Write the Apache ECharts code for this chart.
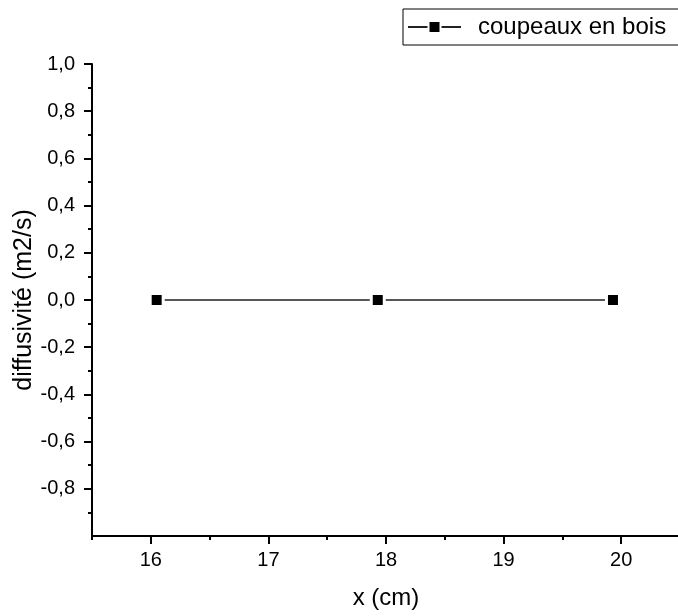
<!DOCTYPE html>
<html>
<head>
<meta charset="utf-8">
<script src="https://cdn.jsdelivr.net/npm/echarts@6/dist/echarts.min.js"></script>
<style>html,body{margin:0;padding:0;background:#fff;}#c{width:678px;height:616px;}</style>
</head>
<body>
<div id="c"></div>
<script>
const seriesName = 'coupeaux en bois';
const xValues = [16.05, 17.93, 19.93];
const yValues = [0, 0, 0];
const xMajorTicks = [16, 17, 18, 19, 20];
const xMinorTicks = [15.5, 16.5, 17.5, 18.5, 19.5];
const yMajorTicks = [-0.8, -0.6, -0.4, -0.2, 0, 0.2, 0.4, 0.6, 0.8, 1.0];
const xTitle = 'x (cm)';
const yTitle = 'diffusivité (m2/s)';

const FONT = '"Liberation Sans", Arial, sans-serif';
const chart = echarts.init(document.getElementById('c'), null, {renderer: 'canvas'});
const axisLine = {show: true, onZero: false, lineStyle: {color: '#000', width: 2}};
chart.setOption({
  animation: false,
  backgroundColor: '#fff',
  textStyle: {fontFamily: FONT, color: '#000'},
  grid: {left: 92, top: 64, right: -2, bottom: 80, containLabel: false, outerBoundsMode: 'none'},
  legend: {
    left: 403, top: 9,
    padding: [6, 30, 6, 4],
    borderColor: '#000', borderWidth: 1,
    itemWidth: 53, itemHeight: 15,
    textStyle: {fontFamily: FONT, fontSize: 24, color: '#000', padding: [0, 0, 0, 12]},
    data: [seriesName]
  },
  xAxis: [{
    type: 'value', min: 15.5, max: 20.5, position: 'bottom',
    name: xTitle, nameLocation: 'middle', nameGap: 50, nameMoveOverlap: false,
    nameTextStyle: {fontFamily: FONT, fontSize: 24, color: '#000'},
    axisLine: axisLine,
    axisTick: {show: true, inside: false, length: 8, lineStyle: {color: '#000', width: 2}, customValues: xMajorTicks},
    axisLabel: {show: true, fontFamily: FONT, fontSize: 20, color: '#000', margin: 14, customValues: xMajorTicks},
    splitLine: {show: false}
  }, {
    type: 'value', min: 15.5, max: 20.5, position: 'bottom',
    axisLine: {show: false, onZero: false},
    axisTick: {show: true, length: 4, lineStyle: {color: '#000', width: 2}, customValues: xMinorTicks},
    axisLabel: {show: false},
    splitLine: {show: false}
  }],
  yAxis: {
    type: 'value', min: -1, max: 1, interval: 0.2,
    name: yTitle, nameLocation: 'middle', nameGap: 55, nameMoveOverlap: false,
    nameTextStyle: {fontFamily: FONT, fontSize: 25, color: '#000'},
    axisLine: axisLine,
    axisTick: {show: true, length: 8, lineStyle: {color: '#000', width: 2}, customValues: yMajorTicks},
    minorTick: {show: true, splitNumber: 2, length: 4, lineStyle: {color: '#000', width: 2}},
    axisLabel: {
      fontFamily: FONT, fontSize: 20, color: '#000', margin: 17,
      customValues: yMajorTicks,
      formatter: function (v) {
        if (Math.abs(v + 1) < 1e-9) return '';
        if (Math.abs(v) < 1e-9) return '0,0';
        return v.toFixed(1).replace('.', ',');
      }
    },
    splitLine: {show: false}
  },
  series: [{
    name: seriesName,
    type: 'line',
    xAxisIndex: 0,
    data: xValues.map((x, i) => [x, yValues[i]]),
    symbol: 'rect',
    symbolSize: 13,
    lineStyle: {color: '#222', width: 1.5},
    itemStyle: {color: '#000', borderColor: '#fff', borderWidth: 3},
    emphasis: {disabled: true}
  }]
});
</script>
</body>
</html>
